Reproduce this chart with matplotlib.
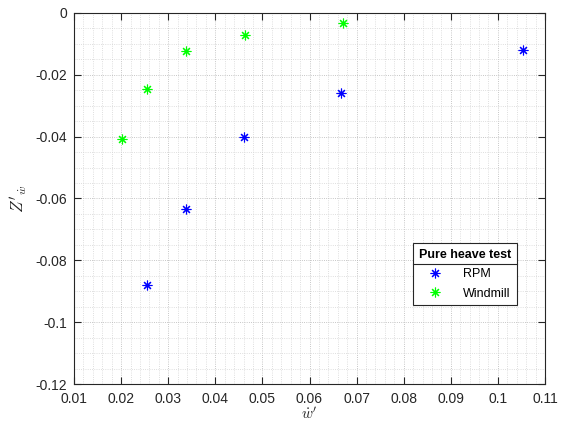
import numpy as np
import matplotlib
matplotlib.use('Agg')
import matplotlib.pyplot as plt
from matplotlib.ticker import MultipleLocator
from matplotlib.lines import Line2D

plt.rcParams['font.family'] = ['Liberation Sans', 'DejaVu Sans']
plt.rcParams['mathtext.fontset'] = 'cm'

# pure heave test results
rpm_x = [0.0255, 0.0337, 0.0461, 0.0667, 0.1054]
rpm_y = [-0.0881, -0.0634, -0.0401, -0.0259, -0.0121]
wind_x = [0.0201, 0.0256, 0.0337, 0.0462, 0.0671]
wind_y = [-0.0406, -0.0247, -0.0123, -0.0072, -0.0033]

fig = plt.figure(figsize=(5.69, 4.23), dpi=100)
ax = fig.add_axes([74/569, 39/423, 471/569, 371/423])

star = (8, 2, 0)
ax.plot(rpm_x, rpm_y, linestyle='none', marker=star, color='#0000ff',
        markersize=7, markeredgewidth=0.8, label='RPM')
ax.plot(wind_x, wind_y, linestyle='none', marker=star, color='#00ff00',
        markersize=7, markeredgewidth=0.8, label='Windmill')

ax.set_xlim(0.01, 0.11)
ax.set_ylim(-0.12, 0)
ax.xaxis.set_minor_locator(MultipleLocator(0.002))
ax.yaxis.set_minor_locator(MultipleLocator(0.005))
ax.set_xticks(np.arange(0.01, 0.111, 0.01))
ax.set_xticklabels(['0.01', '0.02', '0.03', '0.04', '0.05', '0.06', '0.07',
                    '0.08', '0.09', '0.1', '0.11'])
ax.set_yticks(np.arange(-0.12, 0.001, 0.02))
ax.set_yticklabels(['-0.12', '-0.1', '-0.08', '-0.06', '-0.04', '-0.02', '0'])

ax.tick_params(which='major', direction='in', top=True, right=True,
               length=5, width=0.8, labelsize=10, colors='#262626')
ax.tick_params(axis='x', which='major', pad=6)
ax.tick_params(axis='y', which='major', pad=5)
ax.tick_params(which='minor', length=0)
for s in ax.spines.values():
    s.set_color('#262626')
    s.set_linewidth(0.8)

ax.grid(which='major', linestyle=':', color='#b4b4b4', linewidth=0.6)
ax.grid(which='minor', linestyle=':', color='#d4d4d4', linewidth=0.6)
ax.set_axisbelow(True)

ax.set_xlabel(r"$\dot{w}'$", fontsize=11, color='#262626', labelpad=0)
ax.set_ylabel(r"$Z'_{\dot{w}}$", fontsize=12, color='#262626', labelpad=4)

leg = ax.legend(loc='upper left', bbox_to_anchor=(0.72, 0.38),
                borderaxespad=0, title='Pure heave test', fontsize=9,
                fancybox=False, edgecolor='#262626', framealpha=1,
                borderpad=0.45, handletextpad=0.9, handlelength=2.6,
                labelspacing=0.6)
leg.get_title().set_fontweight('bold')
leg.get_title().set_fontsize(9)
leg.get_frame().set_linewidth(0.8)

fig.canvas.draw()
lb = leg.get_window_extent()
tb = leg.get_title().get_window_extent()
ysep = (tb.y0 - 3) / fig.bbox.height
sep = Line2D([lb.x0 / fig.bbox.width, lb.x1 / fig.bbox.width], [ysep, ysep],
             transform=fig.transFigure, color='#262626', linewidth=0.8)
fig.add_artist(sep)

fig.savefig('out.png', dpi=100)
